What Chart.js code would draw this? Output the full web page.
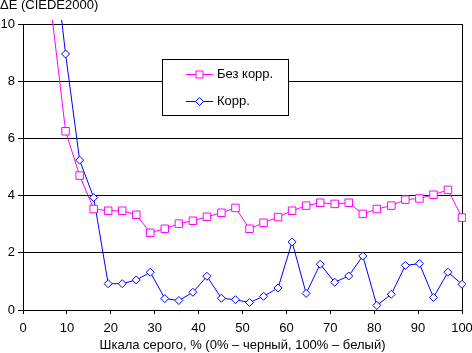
<!DOCTYPE html>
<html>
<head>
<meta charset="utf-8">
<script src="https://cdn.jsdelivr.net/npm/chart.js@4.4.1/dist/chart.umd.min.js"></script>
<style>
    html, body { margin: 0; padding: 0; background: #fff; }
    #wrap { width: 472px; height: 353px; }
</style>
</head>
<body>
<div id="wrap"><canvas id="grayChart"></canvas></div>
<script>
// gray levels, % (32 steps)
const grayLevels = [0, 3.2, 6.5, 9.7, 12.9, 16.1, 19.4, 22.6, 25.8, 29.0, 32.3, 35.5, 38.7, 41.9, 45.2, 48.4,
    51.6, 54.8, 58.1, 61.3, 64.5, 67.7, 71.0, 74.2, 77.4, 80.6, 83.9, 87.1, 90.3, 93.5, 96.8, 100];
const noCorrection = [null, null, 10.4, 6.25, 4.7, 3.53, 3.47, 3.47, 3.33, 2.70, 2.84, 3.02, 3.12, 3.26, 3.40, 3.57,
    2.84, 3.05, 3.25, 3.47, 3.65, 3.75, 3.71, 3.75, 3.36, 3.53, 3.65, 3.86, 3.90, 4.03, 4.20, 3.23];
const withCorrection = [null, null, 13.2, 8.95, 5.24, 3.93, 0.92, 0.92, 1.05, 1.32, 0.40, 0.33, 0.62, 1.18, 0.41, 0.36,
    0.26, 0.48, 0.77, 2.38, 0.58, 1.60, 0.97, 1.19, 1.89, 0.16, 0.55, 1.56, 1.62, 0.44, 1.32, 0.90];
const xTicks = [0, 10, 20, 30, 40, 50, 60, 70, 80, 90, 100];
const yTicks = [0, 2, 4, 6, 8, 10];
const yTitle = 'ΔE (CIEDE2000)';

const FONT = '"Liberation Sans", Arial, sans-serif';
Chart.defaults.font.family = FONT;
Chart.defaults.font.size = 13;
Chart.defaults.color = '#000';

const toPoints = (values) => grayLevels.map((x, i) => ({x: x, y: values[i]}));

// y title on top-left and legend box inside the plot, like in the original
const boxLegend = {
    id: 'boxLegend',
    afterDatasetsDraw(chart) {
        const ctx = chart.ctx;
        ctx.save();
        ctx.font = '13px ' + FONT;
        ctx.fillStyle = '#000';
        ctx.textBaseline = 'alphabetic';
        ctx.fillText(yTitle, 0, 9);

        ctx.fillStyle = '#fff';
        ctx.strokeStyle = '#000';
        ctx.lineWidth = 1;
        ctx.fillRect(162.5, 59.5, 126, 56);
        ctx.strokeRect(162.5, 59.5, 126, 56);

        const rows = [74.5, 101.5];
        chart.data.datasets.forEach((ds, i) => {
            const y = rows[i];
            ctx.strokeStyle = ds.borderColor;
            ctx.beginPath();
            ctx.moveTo(186, y);
            ctx.lineTo(213, y);
            ctx.stroke();
            ctx.fillStyle = '#fff';
            ctx.beginPath();
            if (ds.pointStyle === 'rect') {
                ctx.rect(196, y - 3.5, 7, 7);
            } else {
                ctx.moveTo(199.5 - 4, y);
                ctx.lineTo(199.5, y - 4);
                ctx.lineTo(199.5 + 4, y);
                ctx.lineTo(199.5, y + 4);
                ctx.closePath();
            }
            ctx.fill();
            ctx.stroke();
            ctx.fillStyle = '#000';
            ctx.textBaseline = 'middle';
            ctx.fillText(ds.label, 217, y);
        });
        ctx.restore();
    }
};

new Chart(document.getElementById('grayChart'), {
    type: 'line',
    data: {
        datasets: [{
            label: 'Без корр.',
            data: toPoints(noCorrection),
            borderColor: '#FF00FF',
            borderWidth: 1,
            pointStyle: 'rect',
            pointRadius: 5.3,
            pointBorderWidth: 1,
            pointBackgroundColor: '#fff',
            pointBorderColor: '#FF00FF',
            tension: 0,
            clip: 4
        }, {
            label: 'Корр.',
            data: toPoints(withCorrection),
            borderColor: '#0000FF',
            borderWidth: 1,
            pointStyle: 'rectRot',
            pointRadius: 4,
            pointBorderWidth: 1,
            pointBackgroundColor: '#fff',
            pointBorderColor: '#0000FF',
            tension: 0,
            clip: 4
        }]
    },
    options: {
        responsive: true,
        maintainAspectRatio: false,
        animation: false,
        layout: {padding: {top: 24, right: 10, left: 0, bottom: 0}},
        plugins: {
            legend: {display: false},
            tooltip: {enabled: false}
        },
        scales: {
            x: {
                type: 'linear',
                min: 0,
                max: 100,
                afterBuildTicks: (scale) => {
                    scale.ticks = xTicks.map(v => ({value: v}));
                },
                afterFit: (scale) => {
                    scale.height = 43;
                    scale.paddingLeft = 0;
                    scale.paddingRight = 0;
                },
                ticks: {padding: 7, maxRotation: 0, autoSkip: false},
                grid: {
                    color: (c) => c.tick && c.tick.value === 100 ? '#000' : 'rgba(0,0,0,0)',
                    tickColor: '#000',
                    tickLength: 4
                },
                border: {display: true, color: '#000'},
                title: {
                    display: true,
                    text: 'Шкала серого, % (0% – черный, 100% – белый)',
                    padding: {top: 0, bottom: 0}
                }
            },
            y: {
                min: 0,
                max: 10,
                afterBuildTicks: (scale) => {
                    scale.ticks = yTicks.map(v => ({value: v}));
                },
                afterFit: (scale) => {
                    scale.width = 23;
                },
                ticks: {padding: 3},
                grid: {color: '#000', tickLength: 5},
                border: {display: true, color: '#000'}
            }
        }
    },
    plugins: [boxLegend]
});
</script>
</body>
</html>
